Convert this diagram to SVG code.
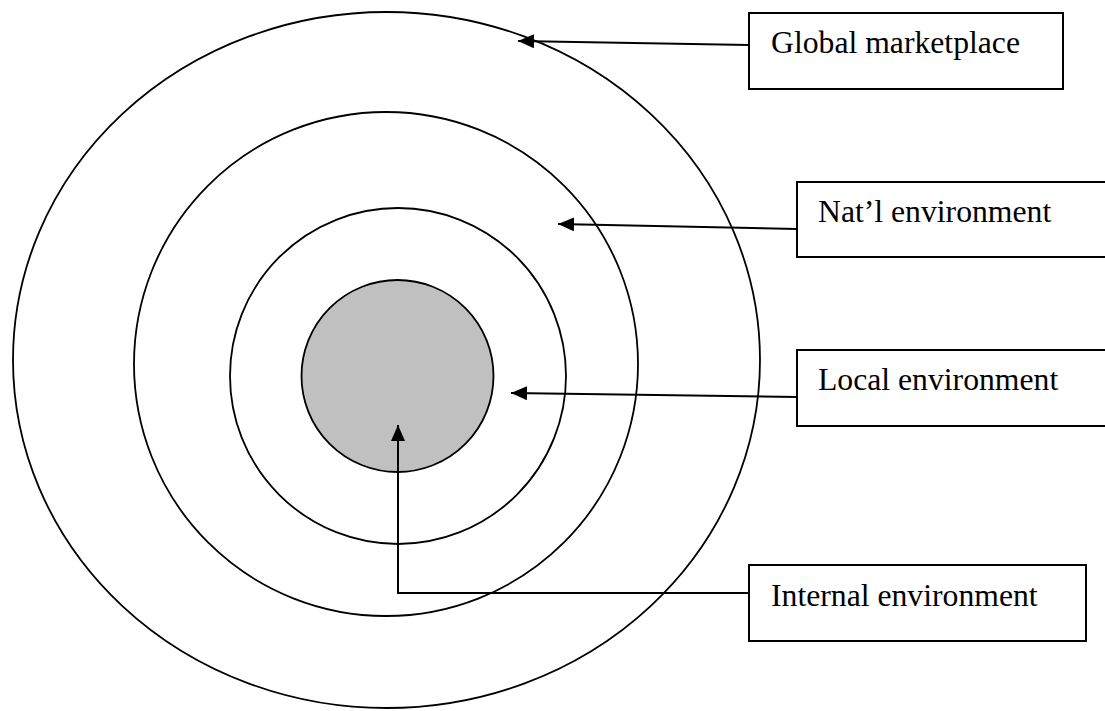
<svg xmlns="http://www.w3.org/2000/svg" width="1105" height="711" viewBox="0 0 1105 711">
  <style>
    .ring { fill: none; stroke: #000; stroke-width: 1.8; }
    .core { fill: #c0c0c0; stroke: #000; stroke-width: 1.8; }
    .box { fill: #fff; stroke: #000; stroke-width: 2; }
    .label { font-family: "Liberation Serif", "Times New Roman", serif; font-size: 31.7px; fill: #000; }
    .link { fill: none; stroke: #000; stroke-width: 2; }
  </style>
  <defs>
    <marker id="arrow" viewBox="0 0 16 14" refX="16" refY="7" markerWidth="16" markerHeight="14" markerUnits="userSpaceOnUse" orient="auto">
      <path d="M0,0 L16,7 L0,14 Z" fill="#000"/>
    </marker>
  </defs>

  <rect width="1105" height="711" fill="#fff"/>

  <!-- concentric environments -->
  <g id="global-ring">
    <ellipse class="ring" cx="386.5" cy="360" rx="373.5" ry="348"/>
  </g>
  <g id="national-ring">
    <circle class="ring" cx="386" cy="364" r="252"/>
  </g>
  <g id="local-ring">
    <circle class="ring" cx="398" cy="376" r="168"/>
  </g>
  <g id="internal-core">
    <circle class="core" cx="397.5" cy="376" r="96"/>
  </g>

  <!-- leader lines from labels to rings -->
  <g id="connectors">
    <line class="link" x1="749" y1="45" x2="518" y2="41" marker-end="url(#arrow)"/>
    <line class="link" x1="797" y1="229" x2="558" y2="224" marker-end="url(#arrow)"/>
    <line class="link" x1="797" y1="397" x2="511" y2="393" marker-end="url(#arrow)"/>
    <polyline class="link" points="750,593 398,593 398,425" marker-end="url(#arrow)"/>
  </g>

  <!-- label boxes -->
  <g id="label-global">
    <rect class="box" x="749" y="13" width="314" height="76"/>
    <text class="label" x="771" y="53">Global marketplace</text>
  </g>
  <g id="label-national">
    <rect class="box" x="797" y="182" width="320" height="75"/>
    <text class="label" x="818" y="222">Nat’l environment</text>
  </g>
  <g id="label-local">
    <rect class="box" x="797" y="350" width="320" height="76"/>
    <text class="label" x="818" y="390">Local environment</text>
  </g>
  <g id="label-internal">
    <rect class="box" x="749" y="565" width="337" height="76"/>
    <text class="label" x="771" y="606">Internal environment</text>
  </g>
</svg>
